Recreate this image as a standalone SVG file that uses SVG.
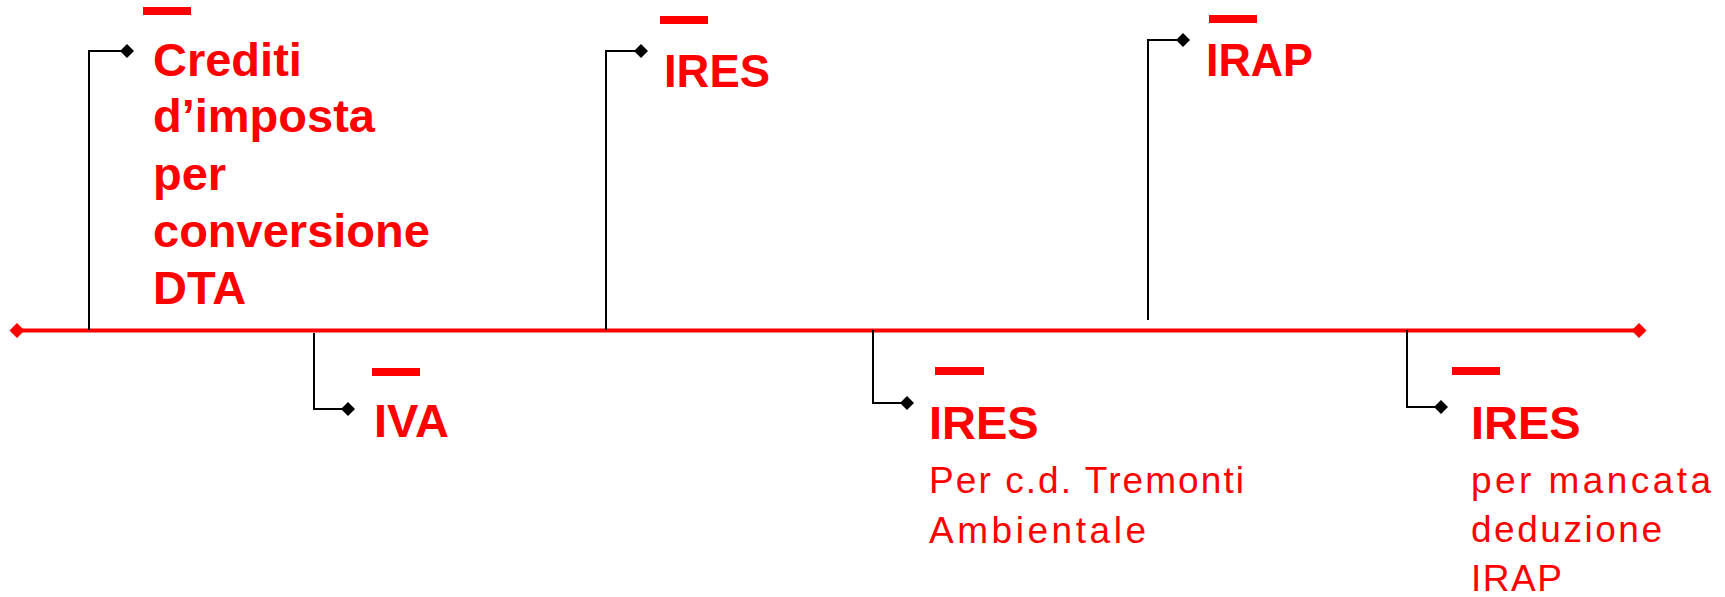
<svg xmlns="http://www.w3.org/2000/svg" xmlns:xlink="http://www.w3.org/1999/xlink" width="1725" height="597" viewBox="0 0 1725 597">
<style>
.bold{font-family:"Liberation Sans",Arial,sans-serif;font-weight:bold;font-size:47px;fill:#FF0000}
.light{font-family:"Liberation Sans",Arial,sans-serif;font-weight:normal;font-size:37px;fill:#FF0000}
.bar{fill:#FF0000}
.conn{fill:none;stroke:#000;stroke-width:2}
</style>
<defs>
<marker id="dk" markerUnits="userSpaceOnUse" markerWidth="16" markerHeight="16" refX="8" refY="8" orient="0" viewBox="0 0 16 16">
<path d="M8,1 L15,8 L8,15 L1,8 Z" fill="#000"/>
</marker>
<path id="rd" d="M0,-7.5 L7.5,0 L0,7.5 L-7.5,0 Z" fill="#FF0000"/>
</defs>
<rect width="1725" height="597" fill="#fff"/>
<g id="timeline">
<line x1="17" y1="330.5" x2="1639" y2="330.5" stroke="#FF0000" stroke-width="4"/>
<use xlink:href="#rd" x="17" y="330.5"/>
<use xlink:href="#rd" x="1639" y="330.5"/>
</g>
<g id="connectors">
<path class="conn" d="M89,330 V51 H127" marker-end="url(#dk)"/>
<path class="conn" d="M314,333 V409 H348" marker-end="url(#dk)"/>
<path class="conn" d="M606,330 V51 H641" marker-end="url(#dk)"/>
<path class="conn" d="M873,330 V403 H907" marker-end="url(#dk)"/>
<path class="conn" d="M1148,320 V40 H1183" marker-end="url(#dk)"/>
<path class="conn" d="M1407,330 V407 H1441" marker-end="url(#dk)"/>
</g>
<g id="node-crediti">
<rect class="bar" x="143" y="7" width="48" height="8"/>
<text class="bold" x="153" y="76">Crediti</text>
<text class="bold" x="153" y="132">d’imposta</text>
<text class="bold" x="153" y="190">per</text>
<text class="bold" x="153" y="247">conversione</text>
<text class="bold" x="153" y="304">DTA</text>
</g>
<g id="node-iva">
<rect class="bar" x="372" y="368" width="48" height="8"/>
<text class="bold" x="374" y="437">IVA</text>
</g>
<g id="node-ires1">
<rect class="bar" x="660" y="16" width="48" height="8"/>
<text class="bold" x="664" y="87" textLength="106" lengthAdjust="spacingAndGlyphs">IRES</text>
</g>
<g id="node-ires2">
<rect class="bar" x="935" y="367" width="49" height="8"/>
<text class="bold" x="929" y="439">IRES</text>
<text class="light" x="929" y="493" textLength="315" lengthAdjust="spacing">Per c.d. Tremonti</text>
<text class="light" x="929" y="543" textLength="217" lengthAdjust="spacing">Ambientale</text>
</g>
<g id="node-irap">
<rect class="bar" x="1209" y="15" width="48" height="8"/>
<text class="bold" x="1206" y="76" textLength="107" lengthAdjust="spacingAndGlyphs">IRAP</text>
</g>
<g id="node-ires3">
<rect class="bar" x="1452" y="367" width="48" height="8"/>
<text class="bold" x="1471" y="439">IRES</text>
<text class="light" x="1471" y="493" textLength="240" lengthAdjust="spacing">per mancata</text>
<text class="light" x="1471" y="542" textLength="191" lengthAdjust="spacing">deduzione</text>
<text class="light" x="1471" y="591" textLength="91" lengthAdjust="spacing">IRAP</text>
</g>
</svg>
